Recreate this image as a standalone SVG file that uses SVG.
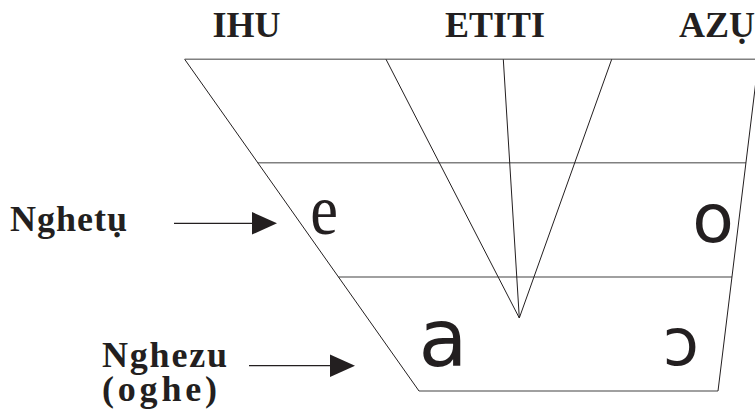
<svg xmlns="http://www.w3.org/2000/svg" width="755" height="409" viewBox="0 0 755 409">
<style>
.lbl{font-family:"Liberation Serif","Times New Roman",serif;font-weight:bold;font-size:36px;fill:#231f20}
.vow{font-family:"DejaVu Sans","Noto Sans",sans-serif;fill:#231f20;text-anchor:middle}
.h{stroke:#808080;stroke-width:1.6;fill:none}
.s{stroke:#231f20;stroke-width:1;fill:none}
.arr{stroke:#231f20;stroke-width:1.2}
</style>
<rect width="755" height="409" fill="#ffffff"/>
<g id="chart">
<line class="h" x1="184.7" y1="59.3" x2="755" y2="59.3"/>
<line class="h" x1="257.7" y1="162.7" x2="746" y2="162.7"/>
<line class="h" x1="338.4" y1="277" x2="732" y2="277"/>
<line class="h" x1="419" y1="391" x2="718" y2="391"/>
<line class="s" x1="184.7" y1="59.3" x2="419" y2="391"/>
<line class="s" x1="758.6" y1="59.3" x2="718" y2="391"/>
<polyline class="s" points="386,59.3 519.3,318 503.3,59.3"/>
<line class="s" x1="611.7" y1="59.3" x2="519.3" y2="318"/>
</g>
<g id="ihu"><text class="lbl" x="246.4" y="37" text-anchor="middle">IHU</text></g>
<g id="etiti"><text class="lbl" x="495" y="37" text-anchor="middle">ETITI</text></g>
<g id="azu"><text class="lbl" x="717" y="37" text-anchor="middle">AZỤ</text></g>
<g id="nghetu"><text class="lbl" x="10" y="231" letter-spacing="1">Nghetụ</text></g>
<g id="nghezu"><text class="lbl" font-size="35"><tspan x="102" y="367" letter-spacing="1.8">Nghezu</tspan><tspan x="102" y="401" letter-spacing="3.8">(oghe)</tspan></text></g>
<g id="vowel-e"><text font-family="'Liberation Serif','Times New Roman',serif" fill="#231f20" text-anchor="middle" font-size="71" transform="translate(324,234) scale(0.88,1)">e</text></g>
<g id="vowel-o"><text class="vow" font-size="68" x="713" y="242">o</text></g>
<g id="vowel-a"><text class="vow" font-size="80" x="443" y="366">a</text></g>
<g id="vowel-open-o"><text class="vow" font-size="66" x="681" y="365">ɔ</text></g>
<g id="connectors">
<line class="arr" x1="174" y1="223.3" x2="253" y2="223.3"/>
<polygon points="252,212 277,223.3 252,234.6" fill="#231f20"/>
<line class="arr" x1="249" y1="365.7" x2="331" y2="365.7"/>
<polygon points="330,354.5 355,365.7 330,377" fill="#231f20"/>
</g>
</svg>
